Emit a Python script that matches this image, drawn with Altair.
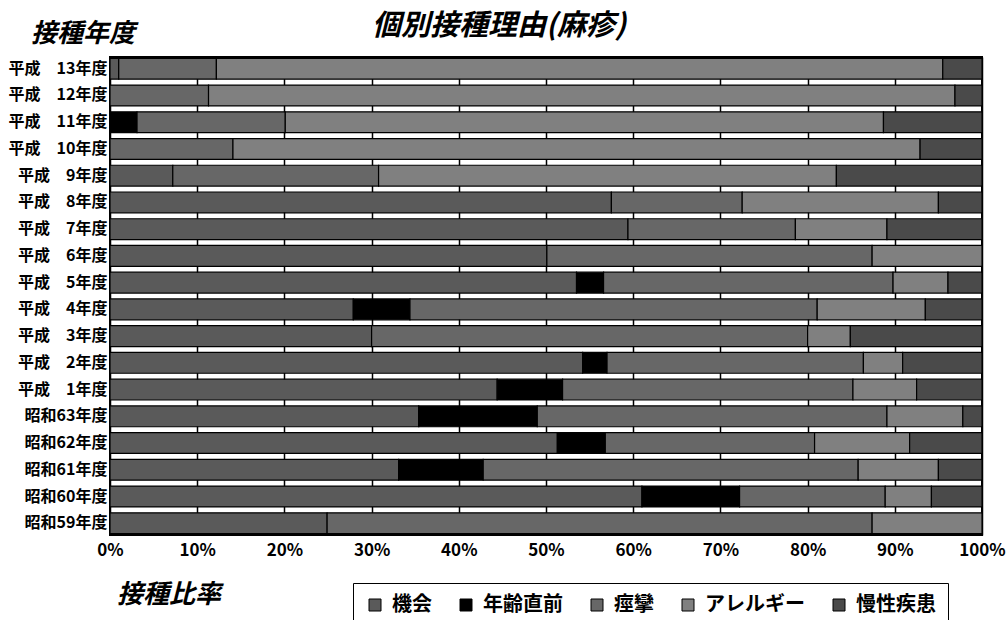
import altair as alt
import pandas as pd

FONT = "Noto Sans CJK JP"

# fiscal years, top row first
years = [
    "平成\u300013年度", "平成\u300012年度", "平成\u300011年度", "平成\u300010年度",
    "平成\u30009年度", "平成\u30008年度", "平成\u30007年度", "平成\u30006年度",
    "平成\u30005年度", "平成\u30004年度", "平成\u30003年度", "平成\u30002年度",
    "平成\u30001年度", "昭和63年度", "昭和62年度", "昭和61年度", "昭和60年度",
    "昭和59年度",
]

reasons = ["機会", "年齢直前", "痙攣", "アレルギー", "慢性疾患"]

# share of each reason (%) per year, same order as `years`
kikai    = [1.0, 0.0, 0.0, 0.0, 7.2, 57.5, 59.4, 50.1, 53.5, 27.9, 30.0, 54.2, 44.4, 35.4, 51.3, 33.1, 61.0, 24.9]
nenrei   = [0.0, 0.0, 3.1, 0.0, 0.0, 0.0, 0.0, 0.0, 3.1, 6.5, 0.0, 2.8, 7.5, 13.6, 5.5, 9.7, 11.2, 0.0]
keiren   = [11.2, 11.3, 17.0, 14.1, 23.6, 15.0, 19.2, 37.3, 33.2, 46.7, 50.0, 29.4, 33.3, 40.1, 24.0, 43.0, 16.7, 62.5]
allergy  = [83.3, 85.6, 68.6, 78.8, 52.5, 22.5, 10.5, 12.6, 6.3, 12.4, 4.9, 4.5, 7.3, 8.7, 10.9, 9.2, 5.3, 12.6]
chronic  = [4.5, 3.1, 11.3, 7.1, 16.7, 5.0, 10.9, 0.0, 3.9, 6.5, 15.1, 9.1, 7.5, 2.2, 8.3, 5.0, 5.8, 0.0]

fills = ["#5a5a5a", "#000000", "#676767", "#808080", "#4a4a4a"]

series = [kikai, nenrei, keiren, allergy, chronic]
rows = []
for k, (name, vals) in enumerate(zip(reasons, series)):
    for y, v in zip(years, vals):
        if v > 0:
            rows.append({"year": y, "reason": name, "order": k, "share": v})
df = pd.DataFrame(rows)

bars = alt.Chart(df).mark_bar(stroke="black", strokeWidth=1.2).encode(
    y=alt.Y(
        "year:N",
        sort=years,
        scale=alt.Scale(paddingInner=0.22, paddingOuter=0.05),
        axis=alt.Axis(
            title=None, ticks=False, domain=False, labelFont=FONT,
            labelFontSize=16, labelFontWeight="bold", labelColor="black",
            labelPadding=3,
        ),
    ),
    x=alt.X(
        "share:Q",
        stack="normalize",
        scale=alt.Scale(domain=[0, 1], nice=False),
        axis=alt.Axis(
            title=None, format=".0%", values=[i / 10 for i in range(11)],
            ticks=False, domain=False, grid=True, gridColor="black",
            gridWidth=1.5, gridOpacity=1, labelFont=FONT, labelFontSize=17,
            labelFontWeight="bold", labelColor="black", labelPadding=7,
            labelFlush=False,
        ),
    ),
    color=alt.Color(
        "reason:N",
        sort=reasons,
        scale=alt.Scale(domain=reasons, range=fills),
        legend=alt.Legend(
            title=None, orient="none", legendX=243, legendY=526,
            direction="horizontal", strokeColor="black", padding=12,
            columnPadding=24, labelFont=FONT, labelFontSize=20,
            labelFontWeight="bold", labelColor="black", labelOffset=7,
            symbolType="square", symbolSize=144, symbolStrokeColor="black",
            symbolStrokeWidth=1, symbolOpacity=1,
        ),
    ),
    order=alt.Order("order:Q", sort="ascending"),
)

def caption(text, x, y, size, align="left"):
    return alt.Chart(pd.DataFrame({"t": [text]})).mark_text(
        font=FONT, fontSize=size, fontWeight="bold", fontStyle="italic",
        color="black", align=align, baseline="middle",
    ).encode(text="t:N", x=alt.value(x), y=alt.value(y))

title = caption("個別接種理由(麻疹)", 389, -31, 29, "center")
ytitle = caption("接種年度", -79, -23, 26)
xtitle = caption("接種比率", 7, 538, 26)

chart = alt.layer(bars, title, ytitle, xtitle).properties(
    width=872,
    height=478,
    autosize=alt.AutoSizeParams(type="none"),
    padding={"left": 110, "top": 57, "right": 25, "bottom": 85},
    background="white",
).configure_view(stroke="black", strokeWidth=2)

chart.save("out.html", embed_options={"renderer": "svg", "actions": False})
